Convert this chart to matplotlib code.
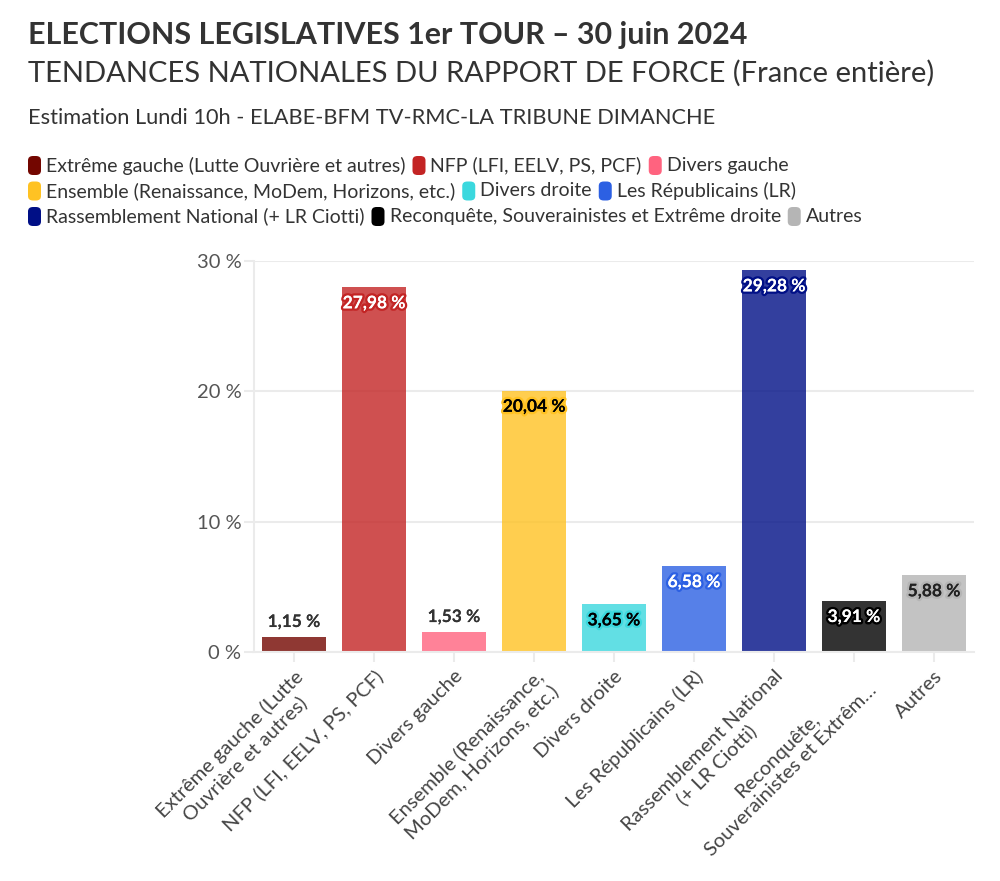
import matplotlib.pyplot as plt
import matplotlib.patheffects as pe
from matplotlib.patches import FancyBboxPatch
import numpy as np

plt.rcParams['font.family'] = ['Lato', 'DejaVu Sans']

# data
parties = [
    'Extrême gauche (Lutte Ouvrière et autres)',
    'NFP (LFI, EELV, PS, PCF)',
    'Divers gauche',
    'Ensemble (Renaissance, MoDem, Horizons, etc.)',
    'Divers droite',
    'Les Républicains (LR)',
    'Rassemblement National (+ LR Ciotti)',
    'Reconquête, Souverainistes et Extrême droite',
    'Autres',
]
tick_labels = [
    'Extrême gauche (Lutte\nOuvrière et autres)',
    'NFP (LFI, EELV, PS, PCF)',
    'Divers gauche',
    'Ensemble (Renaissance,\nMoDem, Horizons, etc.)',
    'Divers droite',
    'Les Républicains (LR)',
    'Rassemblement National\n(+ LR Ciotti)',
    'Reconquête,\nSouverainistes et Extrêm…',
    'Autres',
]
scores = [1.15, 27.98, 1.53, 20.04, 3.65, 6.58, 29.28, 3.91, 5.88]
colors = ['#730600', '#C32424', '#FF637F', '#FFC223', '#3BD8DE',
          '#2C60E3', '#000F86', '#000000', '#B5B5B5']
label_colors = ['#333333', 'white', '#333333', 'black', 'black',
                'white', 'white', 'white', '#222222']

W, H = 1000, 881
fig = plt.figure(figsize=(W / 100, H / 100), dpi=100)


def fx(px):
    return px / W


def fy(py):
    return 1 - py / H


# header
fig.text(fx(28), fy(44), 'ELECTIONS LEGISLATIVES 1er TOUR – 30 juin 2024',
         fontsize=21.9, fontweight='bold', color='#333333', va='baseline')
fig.text(fx(28), fy(82), 'TENDANCES NATIONALES DU RAPPORT DE FORCE (France entière)',
         fontsize=21, color='#333333', va='baseline')
fig.text(fx(28), fy(124), 'Estimation Lundi 10h - ELABE-BFM TV-RMC-LA TRIBUNE DIMANCHE',
         fontsize=15.7, color='#333333', va='baseline')

# legend, flowing rows
rows = [[0, 1, 2], [3, 4, 5], [6, 7, 8]]
renderer = fig.canvas.get_renderer()
for r, row in enumerate(rows):
    y = 165.5 + r * 25.5
    x = 28
    for i in row:
        sw = FancyBboxPatch((fx(x), fy(y + 9.5)), fx(13), 19 / H,
                            boxstyle='round,pad=0,rounding_size=0.005',
                            transform=fig.transFigure, facecolor=colors[i],
                            edgecolor='none')
        fig.patches.append(sw)
        t = fig.text(fx(x + 18), fy(y), parties[i], fontsize=14,
                     color='#333333', va='center')
        bb = t.get_window_extent(renderer)
        x = x + 18 + bb.width + 7

# chart
ax = fig.add_axes([fx(254), fy(652), fx(974) - fx(254), fy(261) - fy(652)])
xs = np.arange(len(scores))
ax.bar(xs, scores, width=0.8, color=colors, alpha=0.8, zorder=2)
ax.set_xlim(-0.5, len(scores) - 0.5)
ax.set_ylim(0, 30)
ax.set_yticks([0, 10, 20, 30])
ax.set_yticklabels(['0 %', '10 %', '20 %', '30 %'])
ax.set_xticks(xs)
ax.set_xticklabels(tick_labels, rotation=45, ha='right', rotation_mode='anchor',
                   multialignment='center')
ax.grid(axis='y', color='#ebebeb', lw=1.5, zorder=0)
for s in ['top', 'right']:
    ax.spines[s].set_visible(False)
for s in ['left', 'bottom']:
    ax.spines[s].set_color('#ebebeb')
    ax.spines[s].set_linewidth(1.5)
ax.tick_params(axis='y', length=7, color='#ebebeb', width=1.5, labelsize=14.5,
               labelcolor='#555555', pad=2)
ax.tick_params(axis='x', length=7, color='#ebebeb', width=1.5, labelsize=14.5,
               labelcolor='#444444', pad=4)

for i, v in enumerate(scores):
    txt = f'{v:.2f}'.replace('.', ',') + ' %'
    if v > 2:
        a = ax.annotate(txt, (i, v), xytext=(0, -11.5), textcoords='offset points',
                        ha='center', va='center', fontsize=12.5, fontweight='bold',
                        color=label_colors[i], zorder=3)
        a.set_path_effects([pe.withStroke(linewidth=3.5, foreground=colors[i]),
                            pe.Normal()])
    else:
        a = ax.annotate(txt, (i, v), xytext=(0, 10.8), textcoords='offset points',
                        ha='center', va='center', fontsize=12.5, fontweight='bold',
                        color=label_colors[i], zorder=3)
        a.set_path_effects([pe.withStroke(linewidth=3, foreground='white'),
                            pe.Normal()])

fig.savefig('out.png', dpi=100)
